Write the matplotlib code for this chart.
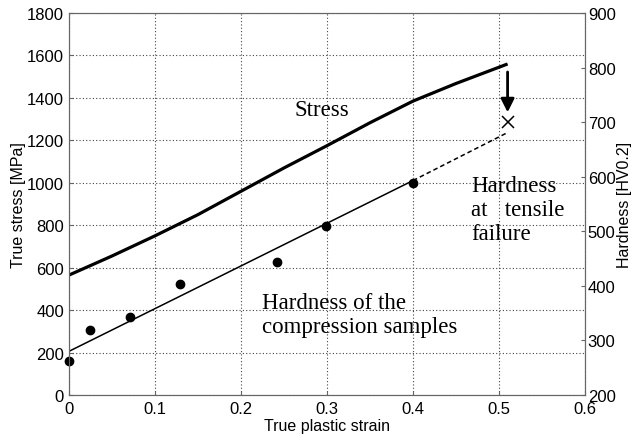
import matplotlib.pyplot as plt
import numpy as np

# stress curve (left axis, MPa)
strain_curve = [0, 0.05, 0.1, 0.15, 0.2, 0.25, 0.3, 0.35, 0.4, 0.45, 0.51]
stress_curve = [565, 655, 750, 850, 960, 1070, 1175, 1283, 1385, 1468, 1560]

# hardness of compression samples (right axis, HV0.2)
strain_pts = [0, 0.024, 0.071, 0.129, 0.242, 0.299, 0.4]
hard_pts = [263, 319, 343, 403, 443, 509, 589]

# linear fit, solid part and extrapolated part
fit_solid_x = [0, 0.4]
fit_solid_y = [280, 593]
fit_dash_x = [0.4, 0.51]
fit_dash_y = [593, 681]

# hardness at tensile failure
fail_x = [0.51]
fail_y = [700]

plt.rcParams['font.family'] = ['Liberation Sans', 'DejaVu Sans']
fig = plt.figure(figsize=(6.34, 4.39), dpi=100)
ax = fig.add_axes([0.1088, 0.098, 0.8139, 0.870])
ax2 = ax.twinx()

ax.plot(strain_curve, stress_curve, color='k', lw=2.3, solid_capstyle='butt')
ax2.plot(fit_solid_x, fit_solid_y, color='k', lw=1.1)
ax2.plot(fit_dash_x, fit_dash_y, color='k', lw=1.1, ls=(0, (3, 2)))
ax2.plot(strain_pts, hard_pts, 'o', color='k', ms=6, clip_on=False)
ax2.plot(fail_x, fail_y, 'x', color='k', ms=8, mew=1.1)
ax2.annotate('', xy=(0.51, 718), xytext=(0.51, 792),
             arrowprops=dict(arrowstyle='-|>', color='k', lw=2, mutation_scale=20,
                             shrinkA=0, shrinkB=0))

ax.set_xlim(0, 0.6)
ax.set_ylim(0, 1800)
ax2.set_ylim(200, 900)
ax.set_xticks(np.arange(0, 0.61, 0.1))
ax.set_xticklabels(['0', '0.1', '0.2', '0.3', '0.4', '0.5', '0.6'])
ax.set_yticks(np.arange(0, 1801, 200))
ax2.set_yticks(np.arange(200, 901, 100))

ax.grid(True, color='#444444', ls=(0, (1, 2)), lw=0.8)
for a in (ax, ax2):
    for s in a.spines.values():
        s.set_color('#666666')
    a.tick_params(direction='in', length=3, labelsize=12, color='#666666')
ax.tick_params(axis='x', pad=4)
ax2.tick_params(pad=2)

ax.set_xlabel('True plastic strain', fontsize=11.5, labelpad=2)
ax.set_ylabel('True stress [MPa]', fontsize=11.5, labelpad=1)
ax2.set_ylabel('Hardness [HV0.2]', fontsize=11.5, labelpad=1)

serif = ['Liberation Serif', 'DejaVu Serif']
ax.text(0.262, 1320, 'Stress', family=serif, fontsize=16.5)
ax.text(0.468, 712, 'Hardness\nat   tensile\nfailure', family=serif, fontsize=16.5,
        linespacing=1.2, va='bottom')
ax.text(0.225, 272, 'Hardness of the\ncompression samples', family=serif, fontsize=16.5,
        linespacing=1.2, va='bottom')

fig.savefig('out.png', dpi=100)
